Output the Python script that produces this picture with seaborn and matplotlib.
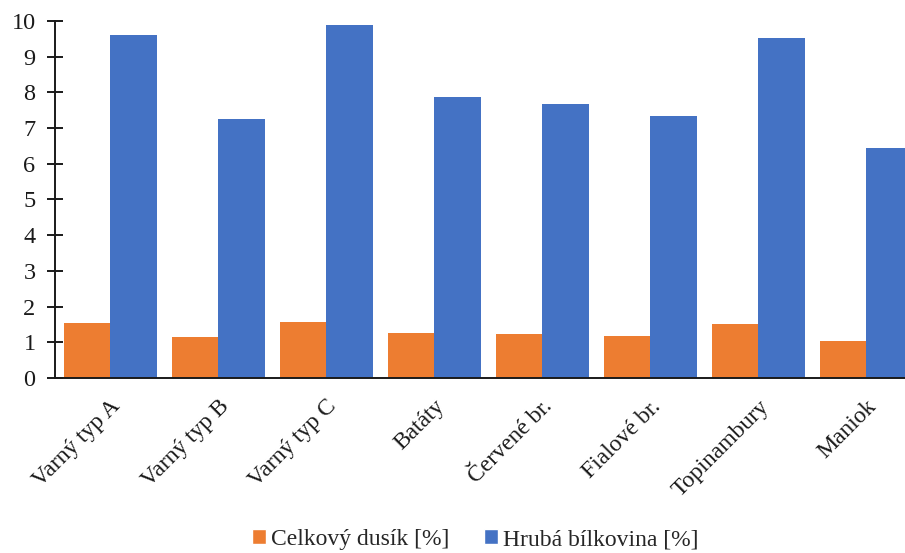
import matplotlib
matplotlib.use("Agg")
import matplotlib.pyplot as plt
from matplotlib.patches import Patch
import seaborn as sns
import pandas as pd

# Plodiny a naměřené hodnoty
categories = ["Varný typ A", "Varný typ B", "Varný typ C", "Batáty",
              "Červené br.", "Fialové br.", "Topinambury", "Maniok"]
nitrogen = [1.54, 1.16, 1.58, 1.26, 1.22, 1.17, 1.52, 1.03]
protein = [9.62, 7.25, 9.89, 7.87, 7.68, 7.34, 9.53, 6.45]
series_names = ["Celkový dusík [%]", "Hrubá bílkovina [%]"]
colors = ["#ED7D31", "#4472C4"]

df = pd.DataFrame({
    "plodina": categories * 2,
    "hodnota": nitrogen + protein,
    "ukazatel": [series_names[0]] * len(categories) + [series_names[1]] * len(categories),
})

sns.set_style("white")
plt.rcParams["font.family"] = ["Liberation Serif", "DejaVu Serif"]

fig = plt.figure(figsize=(9.05, 5.53), dpi=100)
ax = fig.add_axes([0.0608, 0.3165, 0.9392, 0.6455])

sns.barplot(data=df, x="plodina", y="hodnota", hue="ukazatel",
            palette=colors, width=0.86, gap=0, saturation=1,
            linewidth=0, ax=ax, legend=False)

ax.set_ylim(0, 10)
ax.set_xlim(-0.51, 7.36)
ax.set_yticks(range(0, 11))
ax.set_xlabel("")
ax.set_ylabel("")

for side in ["top", "right"]:
    ax.spines[side].set_visible(False)
ax.spines["left"].set_color("#1a1a1a")
ax.spines["left"].set_linewidth(1.4)
ax.spines["bottom"].set_color("#1a1a1a")
ax.spines["bottom"].set_linewidth(1.4)

ax.tick_params(axis="y", direction="inout", length=12, width=1.4,
               color="#1a1a1a", labelsize=17.5, pad=8, left=True)
ax.tick_params(axis="x", length=0, labelsize=17, pad=13)
plt.setp(ax.get_xticklabels(), rotation=45, ha="right",
         rotation_mode="anchor", color="#1a1a1a")
plt.setp(ax.get_yticklabels(), color="#1a1a1a")

handles = [Patch(facecolor=c, label=n) for c, n in zip(colors, series_names)]
fig.legend(handles=handles, loc="center", bbox_to_anchor=(0.525, 0.024),
           ncol=2, frameon=False, fontsize=17, handlelength=0.6,
           handleheight=0.6, handletextpad=0.2, columnspacing=1.45)

fig.savefig("out.png", dpi=100)
